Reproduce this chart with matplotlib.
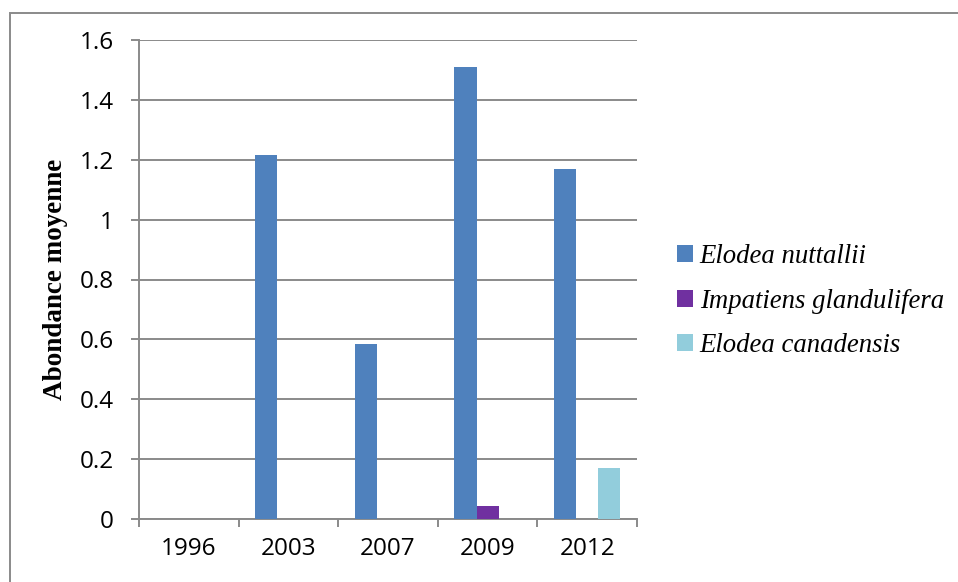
import numpy as np
import matplotlib.pyplot as plt
from matplotlib.patches import Rectangle

# données
annees = ['1996', '2003', '2007', '2009', '2012']
elodea_nuttallii = [0, 1.217, 0.583, 1.51, 1.17]
impatiens_glandulifera = [0, 0, 0, 0.045, 0]
elodea_canadensis = [0, 0, 0, 0, 0.17]
noms = ['Elodea nuttallii', 'Impatiens glandulifera', 'Elodea canadensis']
couleurs = ['#4F81BD', '#7030A0', '#92CDDC']
yticks = [0, 0.2, 0.4, 0.6, 0.8, 1, 1.2, 1.4, 1.6]
ytick_labels = ['0', '0.2', '0.4', '0.6', '0.8', '1', '1.2', '1.4', '1.6']

W, H = 958, 582
fig = plt.figure(figsize=(W / 100, H / 100), dpi=100)
ax = fig.add_axes([139 / W, 1 - 519 / H, 498 / W, 479 / H])

x = np.arange(len(annees))
largeur = 0.222
series = [elodea_nuttallii, impatiens_glandulifera, elodea_canadensis]
for k, (vals, nom, c) in enumerate(zip(series, noms, couleurs)):
    ax.bar(x + (k - 1) * largeur, vals, largeur, color=c, label=nom, zorder=3)

gris = '#8a8a8a'
ax.set_xlim(-0.5, len(annees) - 0.5)
ax.set_ylim(0, 1.6)
ax.set_yticks(yticks)
ax.set_yticklabels(ytick_labels)
ax.set_xticks(x)
ax.set_xticklabels(annees)
ax.set_xticks(np.arange(len(annees) + 1) - 0.5, minor=True)
ax.grid(axis='y', color=gris, linewidth=1.4, zorder=0)

for s in ['top', 'right']:
    ax.spines[s].set_visible(False)
for s in ['left', 'bottom']:
    ax.spines[s].set_color(gris)
    ax.spines[s].set_linewidth(1.4)

ax.tick_params(axis='x', which='major', length=0, pad=13)
ax.tick_params(axis='x', which='minor', length=6, width=1.4, color=gris)
ax.tick_params(axis='y', length=6, width=1.4, color=gris, pad=12)
for lab in ax.get_xticklabels() + ax.get_yticklabels():
    lab.set_fontfamily('Open Sans')
    lab.set_fontsize(17.5)

ax.set_ylabel('Abondance moyenne', fontfamily='Liberation Serif',
              fontweight='bold', fontsize=19.5)
ax.yaxis.set_label_coords(-0.1426, 0.5)

fig.legend(loc='center left', bbox_to_anchor=(677 / W, 1 - 301 / H),
           frameon=False, borderpad=0, borderaxespad=0,
           handlelength=0.6, handleheight=0.6, handletextpad=0.25,
           labelspacing=0.72,
           prop={'family': 'Liberation Serif', 'style': 'italic', 'size': 19.3})

# cadre du graphique
fig.patches.append(Rectangle((9.5 / W, -0.1), 1.2, 1.1 - 12.5 / H,
                             transform=fig.transFigure, fill=False,
                             edgecolor=gris, linewidth=1.4))

fig.savefig('out.png', dpi=100)
